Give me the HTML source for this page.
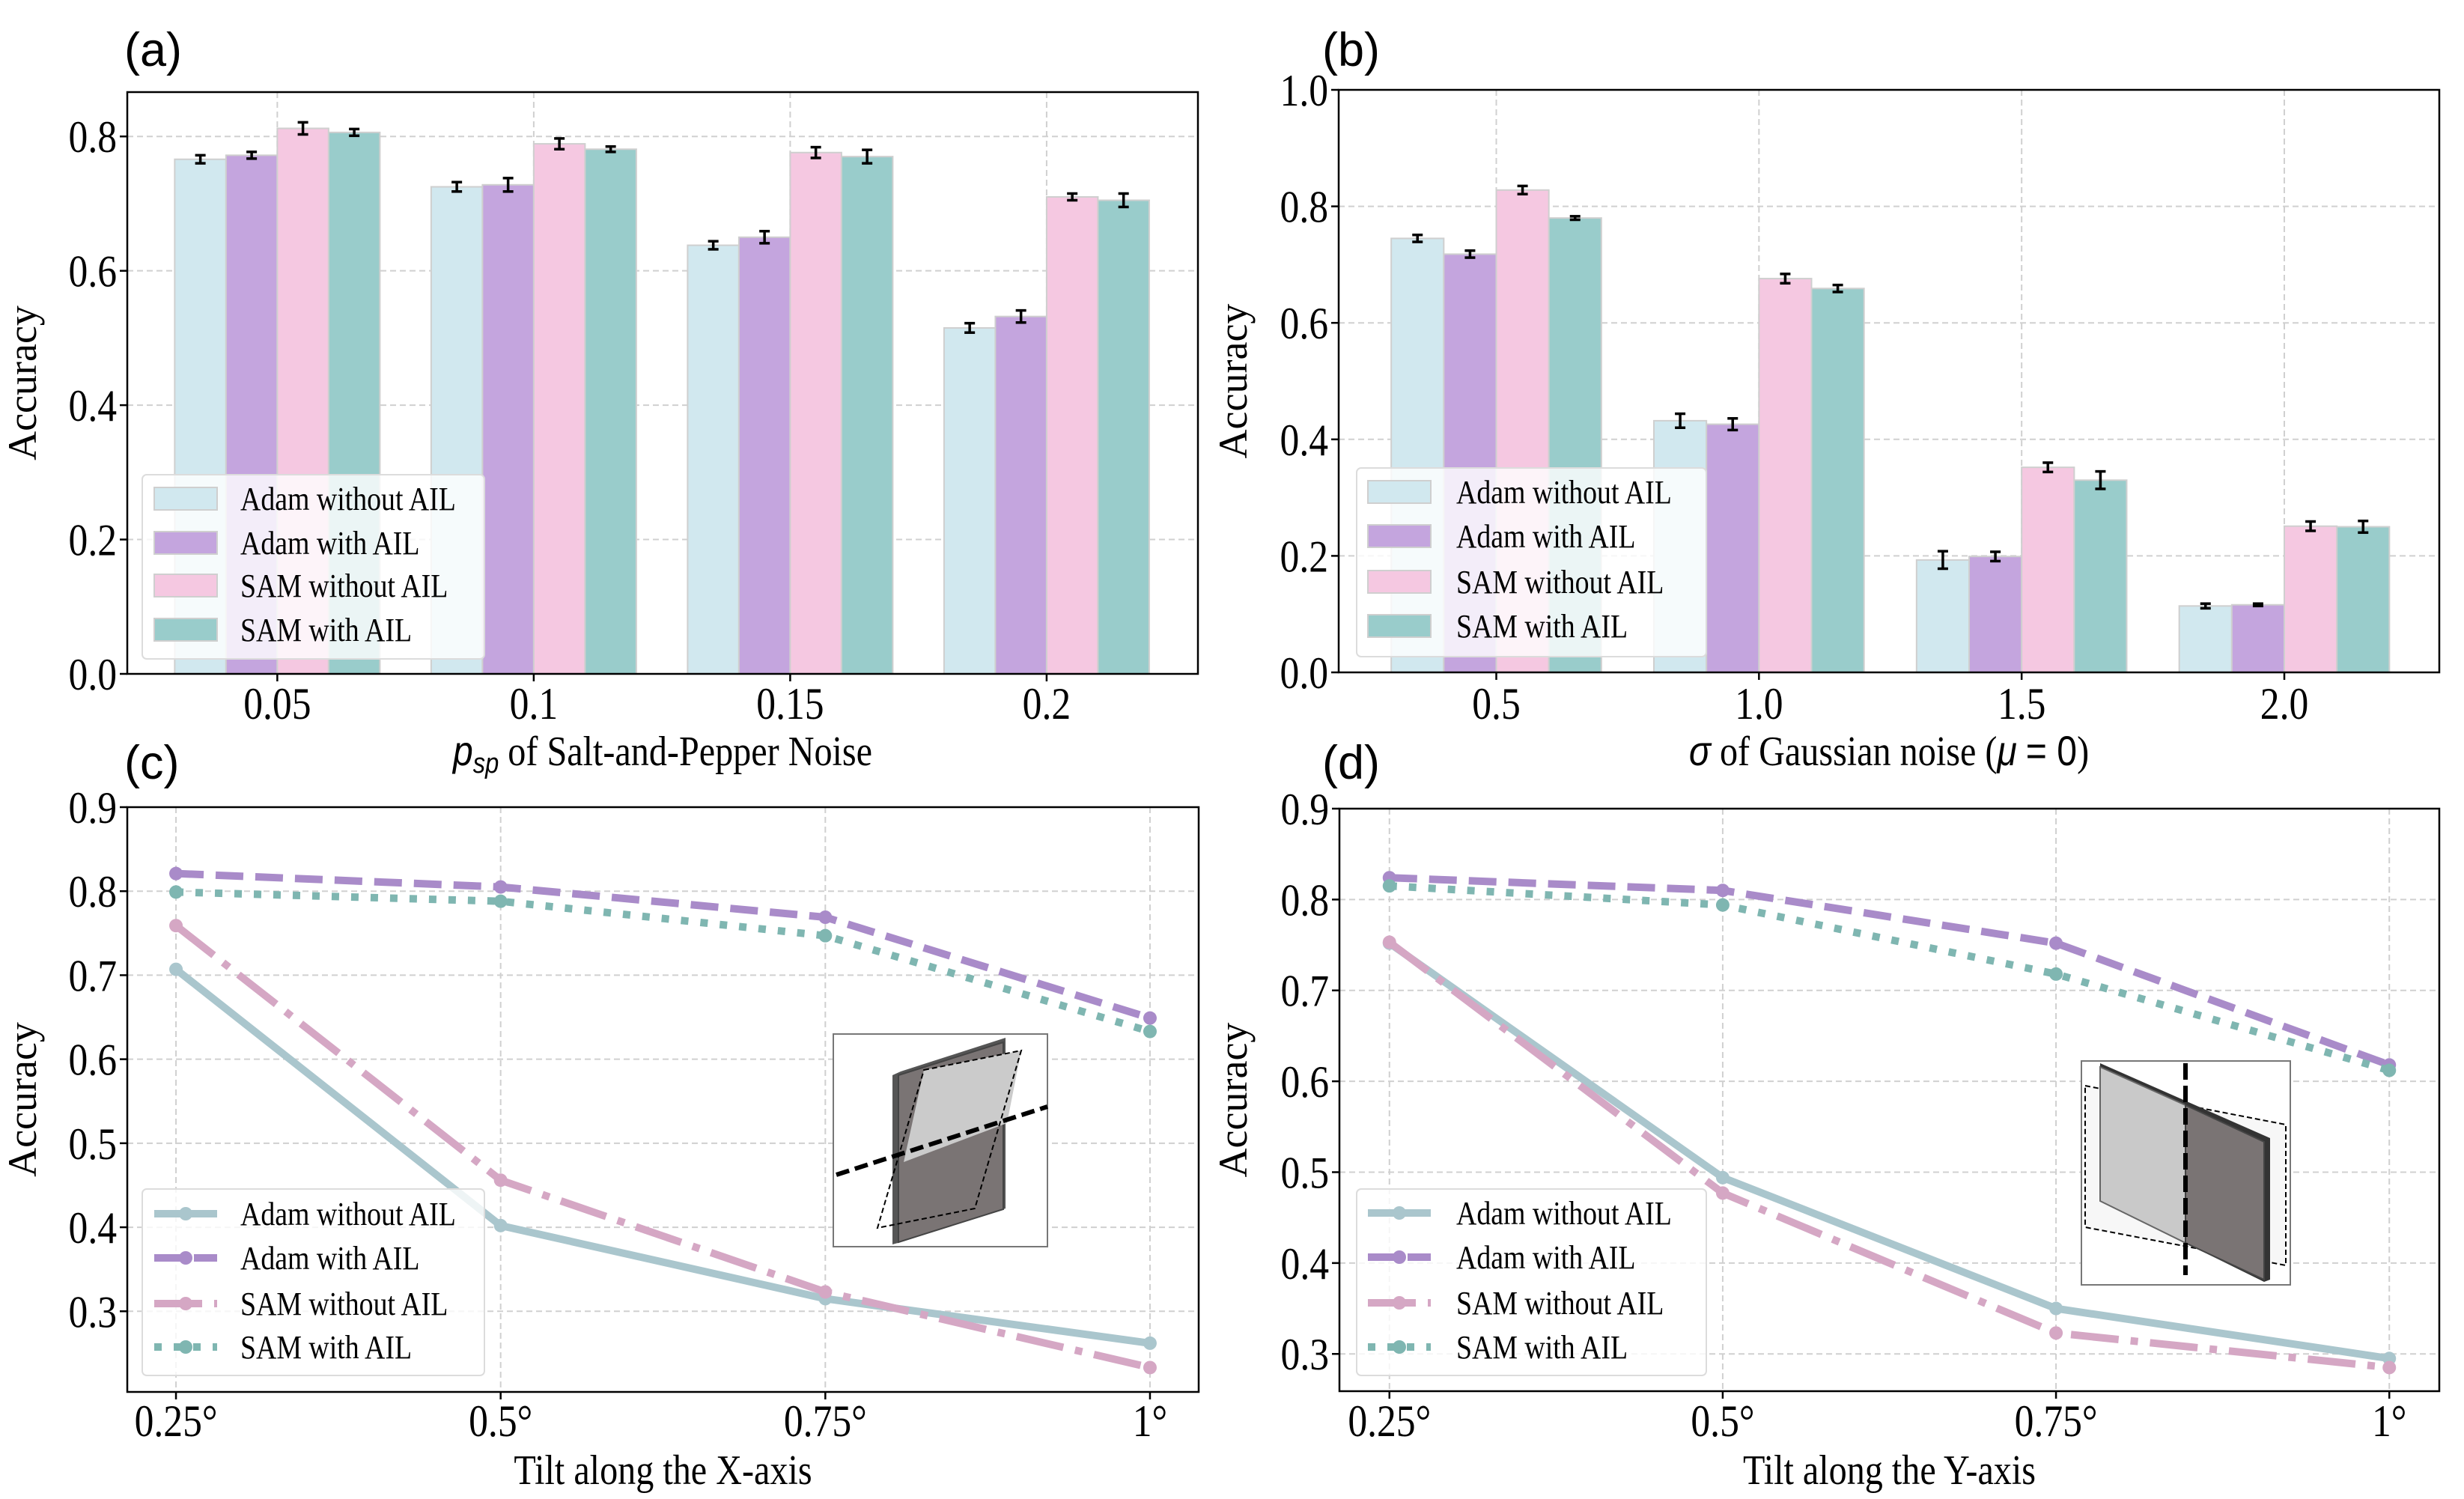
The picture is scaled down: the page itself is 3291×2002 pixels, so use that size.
<!DOCTYPE html>
<html><head><meta charset="utf-8"><title>Accuracy under noise and tilt</title>
<style>
html,body{margin:0;padding:0;background:#fff;}
svg{display:block;}
</style></head>
<body>
<svg id="fig" xmlns="http://www.w3.org/2000/svg" width="3291" height="2002" viewBox="0 0 3291 2002" font-family="Liberation Serif, serif"></svg>
<script>
// ---------- data ----------
const seriesNames = ["Adam without AIL","Adam with AIL","SAM without AIL","SAM with AIL"];
// panel (a)
const catsA = ["0.05","0.1","0.15","0.2"];
const aAdamNo = [0.766,0.725,0.638,0.515];
const aAdamAil = [0.772,0.728,0.650,0.532];
const aSamNo = [0.812,0.789,0.776,0.710];
const aSamAil = [0.806,0.781,0.770,0.705];
const aErrAdamNo = [0.006,0.007,0.006,0.007];
const aErrAdamAil = [0.005,0.010,0.009,0.009];
const aErrSamNo = [0.009,0.008,0.008,0.005];
const aErrSamAil = [0.005,0.004,0.010,0.010];
const ticksA = [0,0.2,0.4,0.6,0.8];
const tickLabelsA = ["0.0","0.2","0.4","0.6","0.8"];
// panel (b)
const catsB = ["0.5","1.0","1.5","2.0"];
const bAdamNo = [0.745,0.432,0.193,0.114];
const bAdamAil = [0.718,0.426,0.199,0.116];
const bSamNo = [0.828,0.676,0.352,0.251];
const bSamAil = [0.780,0.659,0.330,0.250];
const bErrAdamNo = [0.006,0.012,0.015,0.004];
const bErrAdamAil = [0.006,0.010,0.008,0.002];
const bErrSamNo = [0.007,0.008,0.008,0.008];
const bErrSamAil = [0.003,0.006,0.015,0.010];
const ticksB = [0,0.2,0.4,0.6,0.8,1.0];
const tickLabelsB = ["0.0","0.2","0.4","0.6","0.8","1.0"];
// panel (c)
const catsC = ["0.25°","0.5°","0.75°","1°"];
const cAdamNo = [0.707,0.402,0.315,0.262];
const cAdamAil = [0.821,0.805,0.769,0.649];
const cSamNo = [0.759,0.456,0.323,0.233];
const cSamAil = [0.799,0.788,0.747,0.633];
const ticksCD = [0.3,0.4,0.5,0.6,0.7,0.8,0.9];
const tickLabelsCD = ["0.3","0.4","0.5","0.6","0.7","0.8","0.9"];
// panel (d)
const catsD = ["0.25°","0.5°","0.75°","1°"];
const dAdamNo = [0.752,0.494,0.350,0.295];
const dAdamAil = [0.824,0.810,0.752,0.618];
const dSamNo = [0.753,0.477,0.323,0.285];
const dSamAil = [0.815,0.794,0.718,0.612];

const barColors = ["#d1e8ef","#c4a5de","#f5c8e1","#99cccb"];
const lineColors = ["#aac6cd","#a98bc9","#d5a7c4","#7fb6b1"];
const dashes = ["none","37,16","64,16,10,16","10,16"];

const SERIF="Liberation Serif, serif";
const SANS="Liberation Sans, sans-serif";
const NS="http://www.w3.org/2000/svg";
const svg=document.getElementById('fig');
function mk(tag,attrs,parent,txt){
  const e=document.createElementNS(NS,tag);
  for(const k in attrs) e.setAttribute(k,attrs[k]);
  if(tag==='text' && !attrs['font-family']) e.setAttribute('font-family',SERIF);
  if(tag==='text') e.setAttribute('fill','#000');
  if(txt!==undefined) e.textContent=txt;
  (parent||svg).appendChild(e);
  return e;
}
// condensed serif text (reference glyphs are narrow & tall)
function ctext(parent,x,y,anchor,size,str){
  const g=mk('g',{transform:`translate(${x} ${y}) scale(0.86 1)`},parent);
  return mk('text',{x:0,y:0,'text-anchor':anchor,'font-size':size},g,str);
}
function makeAxes(box,xlim,ylim){
  const sx=v=>box.x0+(v-xlim[0])/(xlim[1]-xlim[0])*(box.x1-box.x0);
  const sy=v=>box.y1-(v-ylim[0])/(ylim[1]-ylim[0])*(box.y1-box.y0);
  return {sx,sy};
}
function frame(g,box,sx,sy,yt,cats){
  yt.forEach(v=>{
    const l=mk('line',{x1:box.x0,x2:box.x1,y1:sy(v),y2:sy(v),stroke:'#d0d0d0','stroke-width':2,'stroke-dasharray':'8,5'},g);
    
    
  });
  cats.forEach((c,i)=>{
    const l=mk('line',{x1:sx(i),x2:sx(i),y1:box.y0,y2:box.y1,stroke:'#d0d0d0','stroke-width':2,'stroke-dasharray':'8,5'},g);
    
    
  });
}
function axesOverlay(g,box,sx,sy,yt,ytl,cats,tickY,ylabX){
  const r=mk('rect',{x:box.x0,y:box.y0,width:box.x1-box.x0,height:box.y1-box.y0,fill:'none',stroke:'#000','stroke-width':2.5},g);
  
  
  yt.forEach((v,i)=>{
    mk('line',{x1:box.x0-10,x2:box.x0,y1:sy(v),y2:sy(v),stroke:'#000','stroke-width':2.5},g);
    const t=ctext(g,box.x0-14,sy(v)+21,'end',60,ytl[i]);
    
    
  });
  cats.forEach((c,i)=>{
    mk('line',{x1:sx(i),x2:sx(i),y1:box.y1,y2:box.y1+10,stroke:'#000','stroke-width':2.5},g);
    const t=ctext(g,sx(i),tickY,'middle',60,c);
    
    
  });
  const cy=(box.y0+box.y1)/2;
  const yl=mk('text',{x:ylabX,y:cy,'text-anchor':'middle','font-size':54,transform:`rotate(-90 ${ylabX} ${cy})`},g,'Accuracy');
  
  
}
function panelLetter(txt,x,y,name){
  const t=mk('text',{x:x,y:y,'font-size':63,'font-family':SANS},svg,txt);
  
  
}
function legendText(e,x,y,str){
  const t=ctext(e,x,y,'start',44,str);
  return t;
}
function barPanel(name,box,xlim,ylim,cats,vals,errs,yt,ytl,xlab,xlabY,tickY,ylabX,leg){
  const g=mk('g',{});
  
  
  const {sx,sy}=makeAxes(box,xlim,ylim);
  frame(g,box,sx,sy,yt,cats);
  const w=0.2;
  vals.forEach((ser,s)=>{
    ser.forEach((v,i)=>{
      const xc=i+(s-1.5)*w;
      const x0=sx(xc-w/2), x1=sx(xc+w/2);
      const b=mk('rect',{x:x0,y:sy(v),width:x1-x0,height:sy(0)-sy(v),fill:barColors[s],stroke:'#cfcfcf','stroke-width':2},g);
      
      
    });
  });
  vals.forEach((ser,s)=>{
    ser.forEach((v,i)=>{
      const xc=sx(i+(s-1.5)*w), e=errs[s][i];
      const eg=mk('g',{stroke:'#000','stroke-width':3.5},g);
      
      
      mk('line',{x1:xc,x2:xc,y1:sy(v-e),y2:sy(v+e)},eg);
      mk('line',{x1:xc-7,x2:xc+7,y1:sy(v-e),y2:sy(v-e)},eg);
      mk('line',{x1:xc-7,x2:xc+7,y1:sy(v+e),y2:sy(v+e)},eg);
    });
  });
  const lg=mk('g',{},g);
  
  
  mk('rect',{x:leg.x0,y:leg.y0,width:leg.x1-leg.x0,height:leg.y1-leg.y0,rx:6,fill:'#fff','fill-opacity':0.8,stroke:'#dcdcdc','stroke-width':2},lg);
  seriesNames.forEach((n,s)=>{
    const e=mk('g',{},lg);
    
    
    mk('rect',{x:leg.px,y:leg.rows[s]-15,width:84,height:30,fill:barColors[s],stroke:'#cfcfcf','stroke-width':2},e);
    legendText(e,leg.tx,leg.rows[s]+15,n);
  });
  axesOverlay(g,box,sx,sy,yt,ytl,cats,tickY,ylabX);
  const xg=mk('g',{transform:`translate(${(box.x0+box.x1)/2} ${xlabY}) scale(0.86 1)`},g);
  const xl=mk('text',{x:0,y:0,'text-anchor':'middle','font-size':56},xg);
  xl.innerHTML=xlab;
  
  
}
function linePanel(name,box,xlim,ylim,cats,vals,yt,ytl,xlab,xlabY,tickY,ylabX,leg,inset){
  const g=mk('g',{});
  
  
  const {sx,sy}=makeAxes(box,xlim,ylim);
  frame(g,box,sx,sy,yt,cats);
  inset(g);
  vals.forEach((ser,s)=>{
    const pts=ser.map((v,i)=>sx(i)+','+sy(v)).join(' ');
    const p=mk('polyline',{points:pts,fill:'none',stroke:lineColors[s],'stroke-width':10,'stroke-dasharray':dashes[s],'stroke-linejoin':'round'},g);
    
    
    ser.forEach((v,i)=>{
      const c=mk('circle',{cx:sx(i),cy:sy(v),r:9,fill:lineColors[s]},g);
      
      
    });
  });
  const lg=mk('g',{},g);
  
  
  mk('rect',{x:leg.x0,y:leg.y0,width:leg.x1-leg.x0,height:leg.y1-leg.y0,rx:6,fill:'#fff','fill-opacity':0.8,stroke:'#dcdcdc','stroke-width':2},lg);
  seriesNames.forEach((n,s)=>{
    const e=mk('g',{},lg);
    
    
    mk('line',{x1:leg.px,x2:leg.px+84,y1:leg.rows[s],y2:leg.rows[s],stroke:lineColors[s],'stroke-width':10,'stroke-dasharray':dashes[s]},e);
    mk('circle',{cx:leg.px+42,cy:leg.rows[s],r:9,fill:lineColors[s]},e);
    legendText(e,leg.tx,leg.rows[s]+15,n);
  });
  axesOverlay(g,box,sx,sy,yt,ytl,cats,tickY,ylabX);
  const xl=ctext(g,(box.x0+box.x1)/2,xlabY,'middle',56,xlab);
  
  
}

panelLetter('(a)',166,88,'panel-label-a');
panelLetter('(b)',1766,88,'panel-label-b');
panelLetter('(c)',166,1040,'panel-label-c');
panelLetter('(d)',1766,1040,'panel-label-d');

barPanel('chart-a',{x0:170,x1:1600,y0:123,y1:900},[-0.585,3.59],[0,0.866],catsA,
  [aAdamNo,aAdamAil,aSamNo,aSamAil],[aErrAdamNo,aErrAdamAil,aErrSamNo,aErrSamAil],
  ticksA,tickLabelsA,'<tspan font-style="italic" font-family="Liberation Sans, sans-serif">p</tspan><tspan font-style="italic" font-family="Liberation Sans, sans-serif" font-size="38" dy="10">sp</tspan><tspan dy="-10"> of Salt-and-Pepper Noise</tspan>',
  1022,960,48,
  {x0:190,x1:647,y0:634,y1:880,px:206,tx:321,rows:[666,725,782,841]});

barPanel('chart-b',{x0:1788,x1:3258,y0:120,y1:898},[-0.6,3.59],[0,1.0],catsB,
  [bAdamNo,bAdamAil,bSamNo,bSamAil],[bErrAdamNo,bErrAdamAil,bErrSamNo,bErrSamAil],
  ticksB,tickLabelsB,'<tspan font-style="italic" font-family="Liberation Sans, sans-serif">σ</tspan> of Gaussian noise (<tspan font-style="italic" font-family="Liberation Sans, sans-serif">μ</tspan> <tspan font-family="Liberation Sans, sans-serif">= 0</tspan>)',
  1022,960,1665,
  {x0:1812,x1:2279,y0:625,y1:877,px:1827,tx:1945,rows:[657,716,777,836]});

linePanel('chart-c',{x0:170,x1:1601,y0:1078,y1:1859},[-0.15,3.15],[0.204,0.9],catsC,
  [cAdamNo,cAdamAil,cSamNo,cSamAil],ticksCD,tickLabelsCD,'Tilt along the X-axis',1982,1918,48,
  {x0:190,x1:647,y0:1588,y1:1837,px:206,tx:321,rows:[1621,1680,1741,1799]},
  function(g){
    const ig=mk('g',{},g);
    
    
    mk('rect',{x:1113,y:1381,width:286,height:284,fill:'#fff',stroke:'#777','stroke-width':2},ig);
    mk('polygon',{points:'1192,1436 1203,1431 1343,1386 1343,1614 1203,1659 1192,1662',fill:'#555'},ig);
    mk('polygon',{points:'1200,1436 1340,1392 1340,1615 1200,1659',fill:'#7a7474',stroke:'#444','stroke-width':2},ig);
    mk('polygon',{points:'1234,1429 1364,1403 1345,1500 1207,1552',fill:'#cbcbcb'},ig);
    mk('polygon',{points:'1234,1429 1364,1403 1302,1614 1172,1640',fill:'none',stroke:'#000','stroke-width':2,'stroke-dasharray':'7,4'},ig);
    mk('line',{x1:1117,y1:1569,x2:1399,y2:1478,stroke:'#000','stroke-width':6,'stroke-dasharray':'18,8'},ig);
  });

linePanel('chart-d',{x0:1789,x1:3258,y0:1080,y1:1858},[-0.15,3.15],[0.259,0.9],catsD,
  [dAdamNo,dAdamAil,dSamNo,dSamAil],ticksCD,tickLabelsCD,'Tilt along the Y-axis',1982,1918,1665,
  {x0:1812,x1:2279,y0:1588,y1:1837,px:1827,tx:1945,rows:[1620,1679,1740,1799]},
  function(g){
    const ig=mk('g',{},g);
    
    
    mk('rect',{x:2780,y:1417,width:279,height:299,fill:'#fff',stroke:'#777','stroke-width':2},ig);
    mk('polygon',{points:'2785,1450 3053,1502 3053,1690 2785,1639',fill:'#f7f7f7',stroke:'#000','stroke-width':2,'stroke-dasharray':'7,4'},ig);
    mk('polygon',{points:'2805,1420 3032,1520 3032,1709 3024,1712 2805,1604',fill:'#333'},ig);
    mk('polygon',{points:'2805,1425 2919,1476 2919,1660 2805,1604',fill:'#c9c9c9',stroke:'#666','stroke-width':2},ig);
    mk('polygon',{points:'2919,1476 3024,1525 3024,1709 2919,1660',fill:'#7a7474',stroke:'#444','stroke-width':2},ig);
    mk('line',{x1:2919,y1:1420,x2:2919,y2:1703,stroke:'#000','stroke-width':6,'stroke-dasharray':'22,8'},ig);
  });
</script>
</body></html>
